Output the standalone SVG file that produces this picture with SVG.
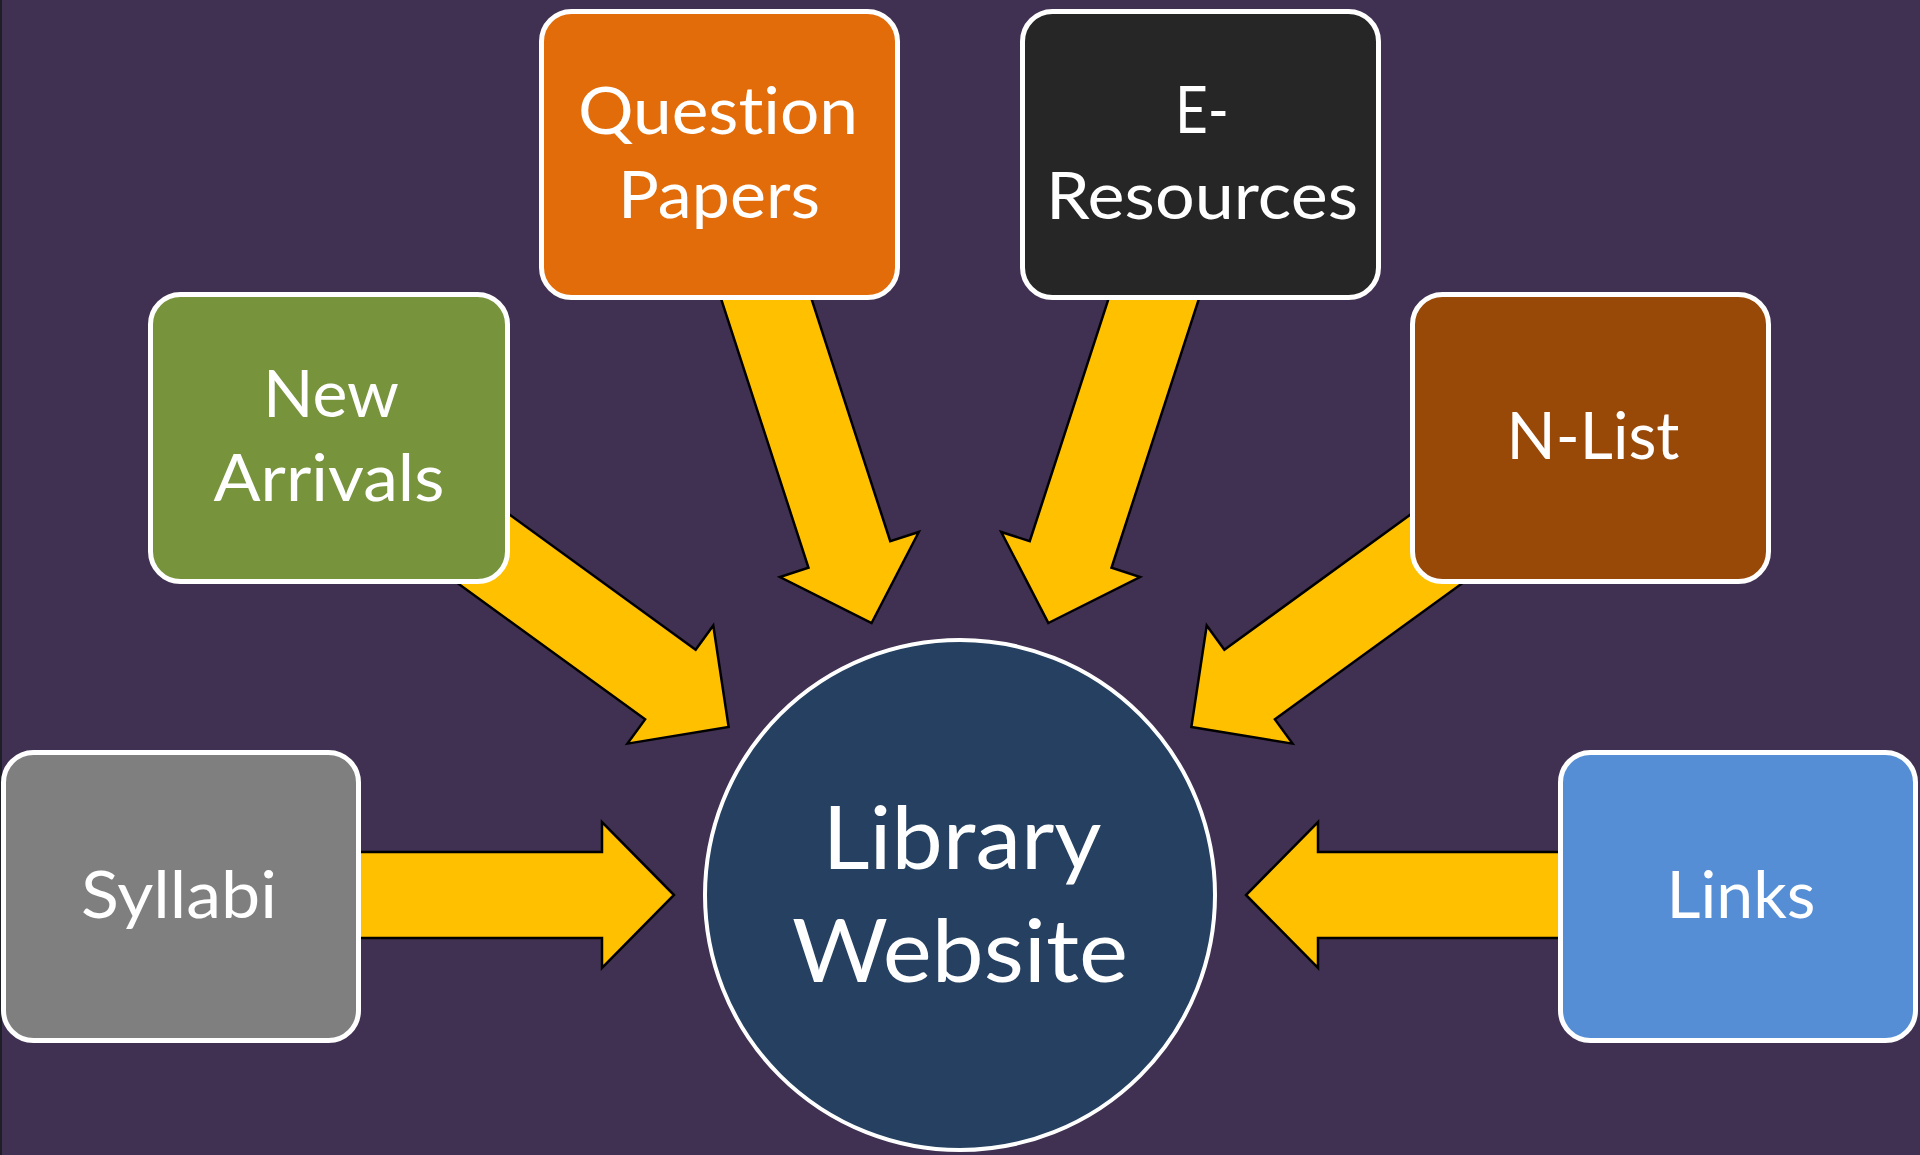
<svg xmlns="http://www.w3.org/2000/svg" width="1920" height="1155" viewBox="0 0 1920 1155">
  <defs>
    <style>
      .bg { fill: #403152; }
      .box { stroke: #ffffff; stroke-width: 5; }
      .arrow { fill: #FFC000; stroke: #000000; stroke-width: 2.5; stroke-linejoin: miter; }
      .lbl { fill: #ffffff; font-family: Lato, "Open Sans", "Liberation Sans", sans-serif; font-size: 66px; text-anchor: middle; font-variant-ligatures: none; font-feature-settings: "liga" 0, "clig" 0; }
      .big { font-size: 88px; }
    </style>
    <polygon id="arr" points="0,0 -72,-73 -72,-43 -450,-43 -450,43 -72,43 -72,73"/>
  </defs>
  <rect class="bg" x="0" y="0" width="1920" height="1155"/>
  <rect x="0" y="0" width="2" height="1155" fill="#1e1e26"/>

  <g id="connectors">
    <use href="#arr" class="arrow" transform="translate(960 895) rotate(0) translate(-286 0)"/>
    <use href="#arr" class="arrow" transform="translate(960 895) rotate(36) translate(-286 0)"/>
    <use href="#arr" class="arrow" transform="translate(960 895) rotate(72) translate(-286 0)"/>
    <use href="#arr" class="arrow" transform="translate(960 895) rotate(108) translate(-286 0)"/>
    <use href="#arr" class="arrow" transform="translate(960 895) rotate(144) translate(-286 0)"/>
    <use href="#arr" class="arrow" transform="translate(960 895) rotate(180) translate(-286 0)"/>
  </g>

  <g id="question-papers">
    <rect class="box" x="541.5" y="11.5" width="356" height="286" rx="30" fill="#E36C0A"/>
    <text class="lbl" x="718" y="134" textLength="280" lengthAdjust="spacingAndGlyphs">Question</text>
    <text class="lbl" x="719" y="218" textLength="202" lengthAdjust="spacingAndGlyphs">Papers</text>
  </g>

  <g id="e-resources">
    <rect class="box" x="1022.5" y="11.5" width="356" height="286" rx="30" fill="#262626"/>
    <text class="lbl" x="1202" y="133" textLength="54" lengthAdjust="spacingAndGlyphs">E-</text>
    <text class="lbl" x="1202" y="219" textLength="312" lengthAdjust="spacingAndGlyphs">Resources</text>
  </g>

  <g id="new-arrivals">
    <rect class="box" x="150.5" y="294.5" width="357" height="287" rx="30" fill="#77933C"/>
    <text class="lbl" x="331" y="417" textLength="136" lengthAdjust="spacingAndGlyphs">New</text>
    <text class="lbl" x="329" y="501" textLength="231" lengthAdjust="spacingAndGlyphs">Arrivals</text>
  </g>

  <g id="n-list">
    <rect class="box" x="1412.5" y="294.5" width="356" height="287" rx="30" fill="#984807"/>
    <text class="lbl" x="1593" y="459" textLength="173" lengthAdjust="spacingAndGlyphs">N-List</text>
  </g>

  <g id="syllabi">
    <rect class="box" x="3.5" y="752.5" width="355" height="288" rx="30" fill="#7F7F7F"/>
    <text class="lbl" x="179" y="918" textLength="196" lengthAdjust="spacingAndGlyphs">Syllabi</text>
  </g>

  <g id="links">
    <rect class="box" x="1560.5" y="752.5" width="355" height="288" rx="30" fill="#558ED5"/>
    <text class="lbl" x="1741" y="918" textLength="149" lengthAdjust="spacingAndGlyphs">Links</text>
  </g>

  <g id="library-website">
    <circle cx="960" cy="895" r="255" fill="#254061" stroke="#ffffff" stroke-width="4"/>
    <text class="lbl big" x="962" y="869" textLength="279" lengthAdjust="spacingAndGlyphs">Library</text>
    <text class="lbl big" x="960" y="982" textLength="336" lengthAdjust="spacingAndGlyphs">Website</text>
  </g>
</svg>
